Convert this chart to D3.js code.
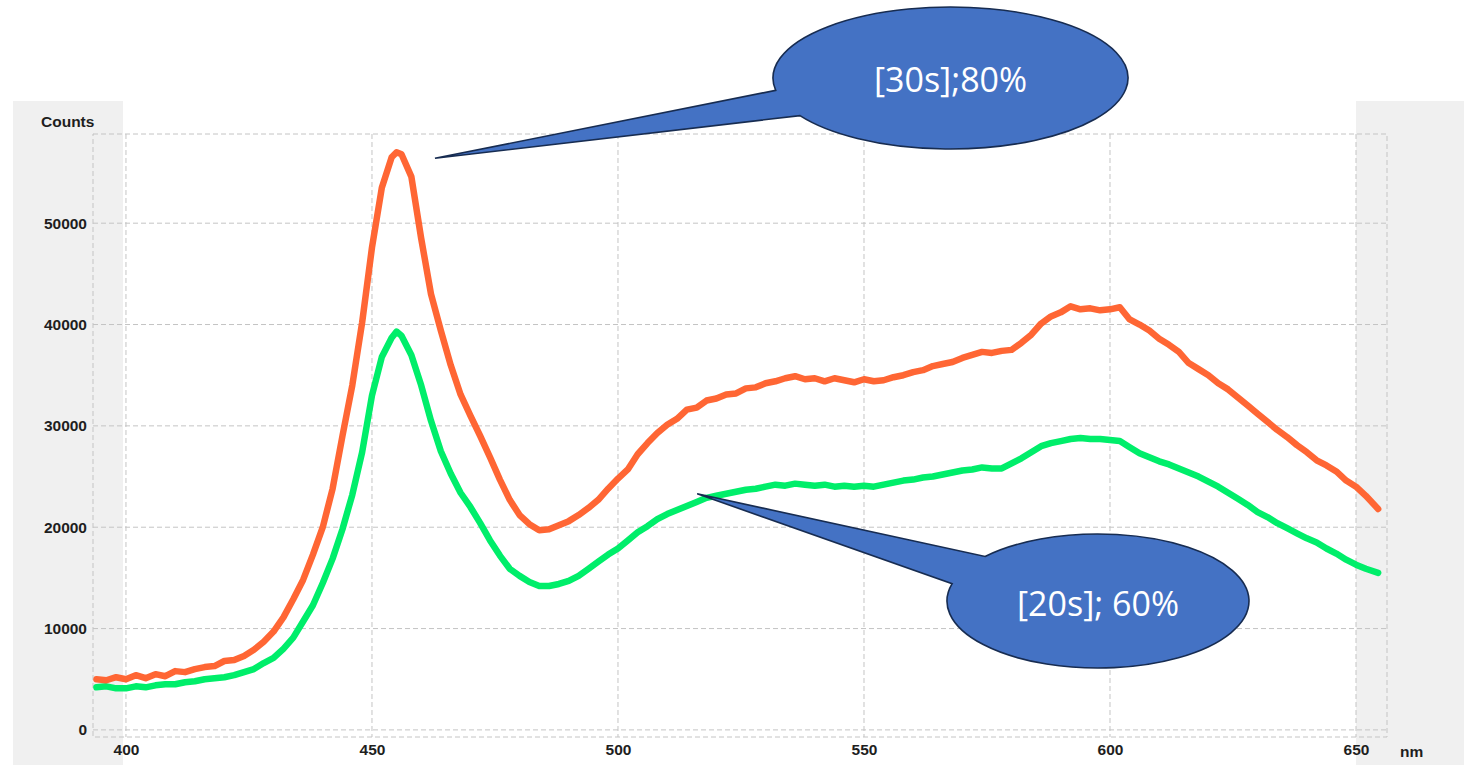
<!DOCTYPE html>
<html>
<head>
<meta charset="utf-8">
<script src="https://cdn.jsdelivr.net/npm/d3@7"></script>
<style>
  body { margin: 0; background: #ffffff; }
  svg { display: block; }
</style>
</head>
<body>
<svg id="chart" width="1464" height="765"></svg>
<script>
// ---- Data ----
const wavelengths = [394,396,398,400,402,404,406,408,410,412,414,416,418,420,422,424,426,428,430,432,434,436,438,440,442,444,446,448,450,452,454,455,456,458,460,462,464,466,468,470,472,474,476,478,480,482,484,486,488,490,492,494,496,498,500,502,504,506,508,510,512,514,516,518,520,522,524,526,528,530,532,534,536,538,540,542,544,546,548,550,552,554,556,558,560,562,564,566,568,570,572,574,576,578,580,582,584,586,588,590,592,594,596,598,600,602,604,606,608,610,612,614,616,618,620,622,624,626,628,630,632,634,636,638,640,642,644,646,648,650,652,654.5];

const series30s80 = [5000,4900,5200,5000,5400,5100,5500,5300,5800,5700,6000,6200,6300,6800,6900,7300,7900,8700,9700,11100,12900,14800,17300,20000,23800,29000,34000,40200,47600,53500,56500,57000,56800,54600,48500,43000,39400,36000,33100,31000,29000,26900,24700,22700,21200,20300,19700,19800,20200,20600,21200,21900,22700,23800,24800,25700,27200,28300,29300,30100,30700,31600,31800,32500,32700,33100,33200,33700,33800,34200,34400,34700,34900,34600,34700,34400,34700,34500,34300,34600,34400,34500,34800,35000,35300,35500,35900,36100,36300,36700,37000,37300,37200,37400,37500,38200,39000,40100,40800,41200,41800,41500,41600,41400,41500,41700,40500,40000,39400,38600,38000,37300,36200,35600,35000,34200,33600,32800,32000,31200,30400,29600,28900,28100,27400,26600,26100,25500,24600,24000,23100,21800];

const series20s60 = [4200,4300,4100,4100,4300,4200,4400,4500,4500,4700,4800,5000,5100,5200,5400,5700,6000,6600,7100,8000,9100,10700,12300,14500,16900,19800,23200,27400,33000,36800,38700,39300,38900,37000,34000,30500,27500,25300,23400,22000,20400,18700,17200,15900,15200,14600,14200,14200,14400,14700,15200,15900,16600,17300,17900,18700,19500,20100,20800,21300,21700,22100,22500,22900,23100,23300,23500,23700,23800,24000,24200,24100,24300,24200,24100,24200,24000,24100,24000,24100,24000,24200,24400,24600,24700,24900,25000,25200,25400,25600,25700,25900,25800,25800,26300,26800,27400,28000,28300,28500,28700,28800,28700,28700,28600,28500,27900,27300,26900,26500,26200,25800,25400,25000,24500,24000,23400,22800,22200,21500,21000,20400,19900,19400,18900,18500,17900,17400,16800,16300,15900,15500];

const xTicks = [400,450,500,550,600,650];
const yTicks = [0,10000,20000,30000,40000,50000];
const xDomain = [393.3, 656.3];
const yDomain = [-700, 58800];

const calloutLabels = ["[30s];80%", "[20s]; 60%"];
const calloutTipNm = [462.8, 516.1];
const calloutTipCounts = [56400, 23300];
</script>
<script>
const svg = d3.select("#chart");

const plot = {left: 93, right: 1387, top: 134, bottom: 737};
const x = d3.scaleLinear().domain(xDomain).range([plot.left, plot.right]);
const y = d3.scaleLinear().domain(yDomain).range([plot.bottom, plot.top]);

// backgrounds
svg.append("rect").attr("x", 13).attr("y", 101).attr("width", 1464 - 13).attr("height", 765 - 101).attr("fill", "#f0f0f0");
svg.append("rect").attr("x", 123).attr("y", 101).attr("width", 1356 - 123).attr("height", 765 - 101).attr("fill", "#ffffff");

const gridColor = "#c4c4c4";
svg.append("g")
  .selectAll("line").data(xTicks).join("line")
  .attr("x1", d => x(d)).attr("x2", d => x(d))
  .attr("y1", plot.top).attr("y2", plot.bottom)
  .attr("stroke", gridColor).attr("stroke-width", 1).attr("stroke-dasharray", "5,3");
svg.append("g")
  .selectAll("line").data(yTicks).join("line")
  .attr("x1", plot.left).attr("x2", plot.right)
  .attr("y1", d => y(d)).attr("y2", d => y(d))
  .attr("stroke", gridColor).attr("stroke-width", 1).attr("stroke-dasharray", "5,3");
svg.append("rect")
  .attr("x", plot.left).attr("y", plot.top)
  .attr("width", plot.right - plot.left).attr("height", plot.bottom - plot.top)
  .attr("fill", "none").attr("stroke", gridColor).attr("stroke-dasharray", "5,3");

// axes labels
const labelFont = "'Liberation Sans', Arial, sans-serif";
const yAxis = svg.append("g").attr("transform", `translate(${plot.left},0)`)
  .call(d3.axisLeft(y).tickValues(yTicks).tickSize(0).tickPadding(6).tickFormat(d3.format("d")));
const xAxis = svg.append("g").attr("transform", `translate(0,${plot.bottom})`)
  .call(d3.axisBottom(x).tickValues(xTicks).tickSize(0).tickPadding(7).tickFormat(d3.format("d")));
[yAxis, xAxis].forEach(a => {
  a.select(".domain").remove();
  a.selectAll("text").attr("font-family", labelFont).attr("font-weight", "bold")
    .attr("font-size", 15.5).attr("fill", "#1e1e1e");
});

svg.append("text").attr("x", 41).attr("y", 127).text("Counts")
  .attr("font-family", labelFont).attr("font-weight", "bold").attr("font-size", 15.5).attr("fill", "#1e1e1e");
svg.append("text").attr("x", 1400).attr("y", 757).text("nm")
  .attr("font-family", labelFont).attr("font-weight", "bold").attr("font-size", 15.5).attr("fill", "#1e1e1e");

// lines
const line = d3.line().x(d => x(d[0])).y(d => y(d[1]));
const dataOrange = wavelengths.map((w, i) => [w, series30s80[i]]);
const dataGreen = wavelengths.map((w, i) => [w, series20s60[i]]);

svg.append("path").datum(dataGreen).attr("d", line)
  .attr("fill", "none").attr("stroke", "#00ee6a").attr("stroke-width", 6.5)
  .attr("stroke-linejoin", "round").attr("stroke-linecap", "round");
svg.append("path").datum(dataOrange).attr("d", line)
  .attr("fill", "none").attr("stroke", "#ff6634").attr("stroke-width", 6.5)
  .attr("stroke-linejoin", "round").attr("stroke-linecap", "round");

// callouts
const callouts = [
  {label: calloutLabels[0], tip: [calloutTipNm[0], calloutTipCounts[0]], c: [950.5, 78], rx: 177.5, ry: 71, a1: 170, a2: 148, ty: 2},
  {label: calloutLabels[1], tip: [calloutTipNm[1], calloutTipCounts[1]], c: [1098, 601], rx: 151, ry: 67, a1: 221.6, a2: 195, ty: 3}
];
callouts.forEach(co => {
  const rad = a => a * Math.PI / 180;
  const p1 = [co.c[0] + co.rx * Math.cos(rad(co.a1)), co.c[1] + co.ry * Math.sin(rad(co.a1))];
  const p2 = [co.c[0] + co.rx * Math.cos(rad(co.a2)), co.c[1] + co.ry * Math.sin(rad(co.a2))];
  const tx = x(co.tip[0]), ty = y(co.tip[1]);
  const d = `M${p1[0]},${p1[1]} A${co.rx},${co.ry} 0 1 1 ${p2[0]},${p2[1]} L${tx},${ty} Z`;
  svg.append("path").attr("d", d).attr("fill", "#4472c4").attr("stroke", "#172c51").attr("stroke-width", 1.6)
    .attr("stroke-linejoin", "miter");
  svg.append("text").attr("x", co.c[0]).attr("y", co.c[1] + co.ty).attr("dy", "0.35em")
    .attr("text-anchor", "middle").attr("font-family", "'Open Sans', sans-serif")
    .attr("font-size", 34).attr("fill", "#ffffff").text(co.label);
});
</script>
</body>
</html>
